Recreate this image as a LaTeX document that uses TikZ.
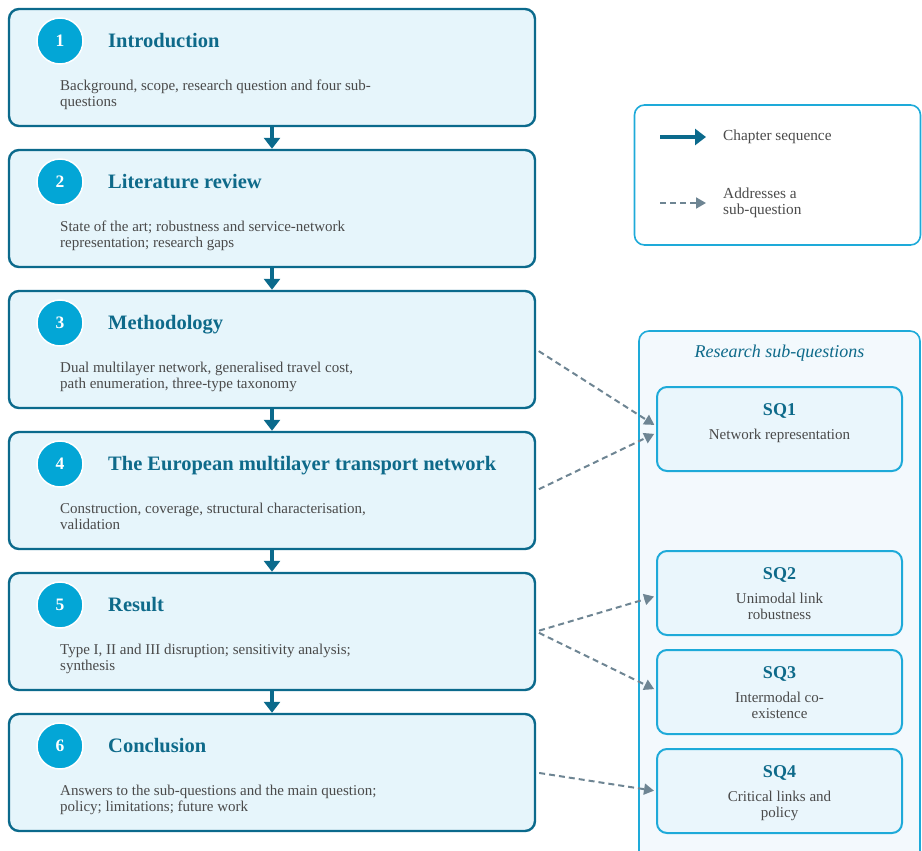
\documentclass[tikz,border=0pt]{standalone}
\usepackage{fontspec}
\setmainfont{Liberation Serif}
\usetikzlibrary{arrows.meta}
\pgfdeclarelayer{bg}
\pgfsetlayers{bg,main}
\def\rgbc#1#2#3{rgb,255:red,#1;green,#2;blue,#3}
\def\fsz#1#2{\fontsize{#1}{#2}\selectfont}

\begin{document}
\begin{tikzpicture}[x=1pt,y=-1pt,
  chapter/.style={draw=\rgbc{11}{106}{140},line width=2.4pt,fill=\rgbc{230}{245}{251},rounded corners=10pt,minimum width=526pt,minimum height=117pt,inner sep=0pt},
  badge/.style={circle,fill=\rgbc{3}{166}{214},draw=white,line width=1.5pt,minimum size=46pt,inner sep=0pt,text=white,font=\fsz{17.5}{17.5}\bfseries},
  ctitle/.style={anchor=base west,text=\rgbc{14}{106}{138},font=\fsz{20.5}{20.5}\bfseries,inner sep=0pt},
  cdesc/.style={anchor=north west,align=left,text=\rgbc{74}{74}{74},font=\fsz{15}{16},inner sep=0pt},
  seqarrow/.style={-{Triangle[length=11pt,width=16pt]},line width=3.2pt,draw=\rgbc{11}{106}{140}},
  addrarrow/.style={-{Triangle[length=10pt,width=11pt]},dash pattern=on 6pt off 4pt,line width=2pt,draw=\rgbc{110}{133}{147}},
  legendbox/.style={draw=\rgbc{30}{170}{217},line width=1.6pt,fill=white,rounded corners=10pt,minimum width=286pt,minimum height=140pt,inner sep=0pt},
  legendtext/.style={anchor=west,align=left,text=\rgbc{74}{74}{74},font=\fsz{15.3}{16},inner sep=0pt},
  panel/.style={draw=\rgbc{30}{170}{217},line width=1.6pt,fill=\rgbc{243}{249}{253},rounded corners=10pt,minimum width=281pt,minimum height=548pt,inner sep=0pt},
  paneltitle/.style={text=\rgbc{14}{106}{138},font=\fsz{18}{18}\itshape,inner sep=0pt},
  sqbox/.style={draw=\rgbc{30}{170}{217},line width=2pt,fill=\rgbc{234}{246}{252},rounded corners=10pt,minimum width=245pt,minimum height=84pt,inner sep=0pt},
  sqhead/.style={text=\rgbc{14}{106}{138},font=\fsz{18}{18}\bfseries,inner sep=0pt},
  sqdesc/.style={anchor=north,align=center,text=\rgbc{74}{74}{74},font=\fsz{15}{16},inner sep=0pt}]

\useasboundingbox (0,0) rectangle (922,851);

% Panel at the back...
\begin{pgfonlayer}{bg}
\begin{scope}
\clip (0,0) rectangle (922,851);
\node (panel) at (779.5,605) [panel] {};
\end{scope}
\end{pgfonlayer}

% Draw the chapters...
\node (c1) at (272, 67.5) [chapter] {};
\node (c2) at (272,208.5) [chapter] {};
\node (c3) at (272,349.5) [chapter] {};
\node (c4) at (272,490.5) [chapter] {};
\node (c5) at (272,631.5) [chapter] {};
\node (c6) at (272,772.5) [chapter] {};

\node (n1) at (60, 41) [badge] {1};
\node (n2) at (60,182) [badge] {2};
\node (n3) at (60,323) [badge] {3};
\node (n4) at (60,464) [badge] {4};
\node (n5) at (60,605) [badge] {5};
\node (n6) at (60,746) [badge] {6};

\node (t1) at (108, 47.5) [ctitle] {Introduction};
\node (t2) at (108,188.5) [ctitle] {Literature review};
\node (t3) at (108,329.5) [ctitle] {Methodology};
\node (t4) at (108,470.5) [ctitle] {The European multilayer transport network};
\node (t5) at (108,611.5) [ctitle] {Result};
\node (t6) at (108,752.5) [ctitle] {Conclusion};

\node (d1) at (60, 80) [cdesc] {Background, scope, research question and four sub-\\questions};
\node (d2) at (60,221) [cdesc] {State of the art; robustness and service-network\\representation; research gaps};
\node (d3) at (60,362) [cdesc] {Dual multilayer network, generalised travel cost,\\path enumeration, three-type taxonomy};
\node (d4) at (60,503) [cdesc] {Construction, coverage, structural characterisation,\\validation};
\node (d5) at (60,644) [cdesc] {Type I, II and III disruption; sensitivity analysis;\\synthesis};
\node (d6) at (60,785) [cdesc] {Answers to the sub-questions and the main question;\\policy; limitations; future work};

% Legend...
\node (legend) at (777.5,175) [legendbox] {};
\coordinate (ls1) at (660,137);
\coordinate (le1) at (706,137);
\coordinate (ls2) at (660,203);
\coordinate (le2) at (706,203);
\node (lt1) at (723,137) [legendtext] {Chapter sequence};
\node (lt2) at (723,203) [legendtext] {Addresses a\\sub-question};

% Sub-questions...
\node (ptitle) at (779.5,353) [paneltitle] {Research sub-questions};
\node (sq1) at (779.5,429) [sqbox] {};
\node (sq2) at (779.5,593) [sqbox] {};
\node (sq3) at (779.5,692) [sqbox] {};
\node (sq4) at (779.5,791) [sqbox] {};
\node (h1) at (779.5,411) [sqhead] {SQ1};
\node (h2) at (779.5,575) [sqhead] {SQ2};
\node (h3) at (779.5,674) [sqhead] {SQ3};
\node (h4) at (779.5,773) [sqhead] {SQ4};
\node (q1) at (779.5,429) [sqdesc] {Network representation};
\node (q2) at (779.5,593) [sqdesc] {Unimodal link\\robustness};
\node (q3) at (779.5,692) [sqdesc] {Intermodal co-\\existence};
\node (q4) at (779.5,791) [sqdesc] {Critical links and\\policy};

% Draw the edges...
\draw[seqarrow] (c1.south) -- (c2.north);
\draw[seqarrow] (c2.south) -- (c3.north);
\draw[seqarrow] (c3.south) -- (c4.north);
\draw[seqarrow] (c4.south) -- (c5.north);
\draw[seqarrow] (c5.south) -- (c6.north);

\draw[addrarrow,shorten <=3pt,shorten >=2pt] (c3.east) -- ([yshift=3pt]sq1.west);
\draw[addrarrow,shorten <=3pt,shorten >=2pt] (c4.east) -- ([yshift=-4pt]sq1.west);
\draw[addrarrow,shorten <=3pt,shorten >=2pt] (c5.east) -- ([yshift=-3pt]sq2.west);
\draw[addrarrow,shorten <=3pt,shorten >=2pt] (c5.east) -- ([yshift=2pt]sq3.west);
\draw[addrarrow,shorten <=3pt,shorten >=2pt] (c6.east) -- (sq4.west);

\draw[seqarrow] (ls1) -- (le1);
\draw[addrarrow] (ls2) -- (le2);

\end{tikzpicture}
\end{document}
